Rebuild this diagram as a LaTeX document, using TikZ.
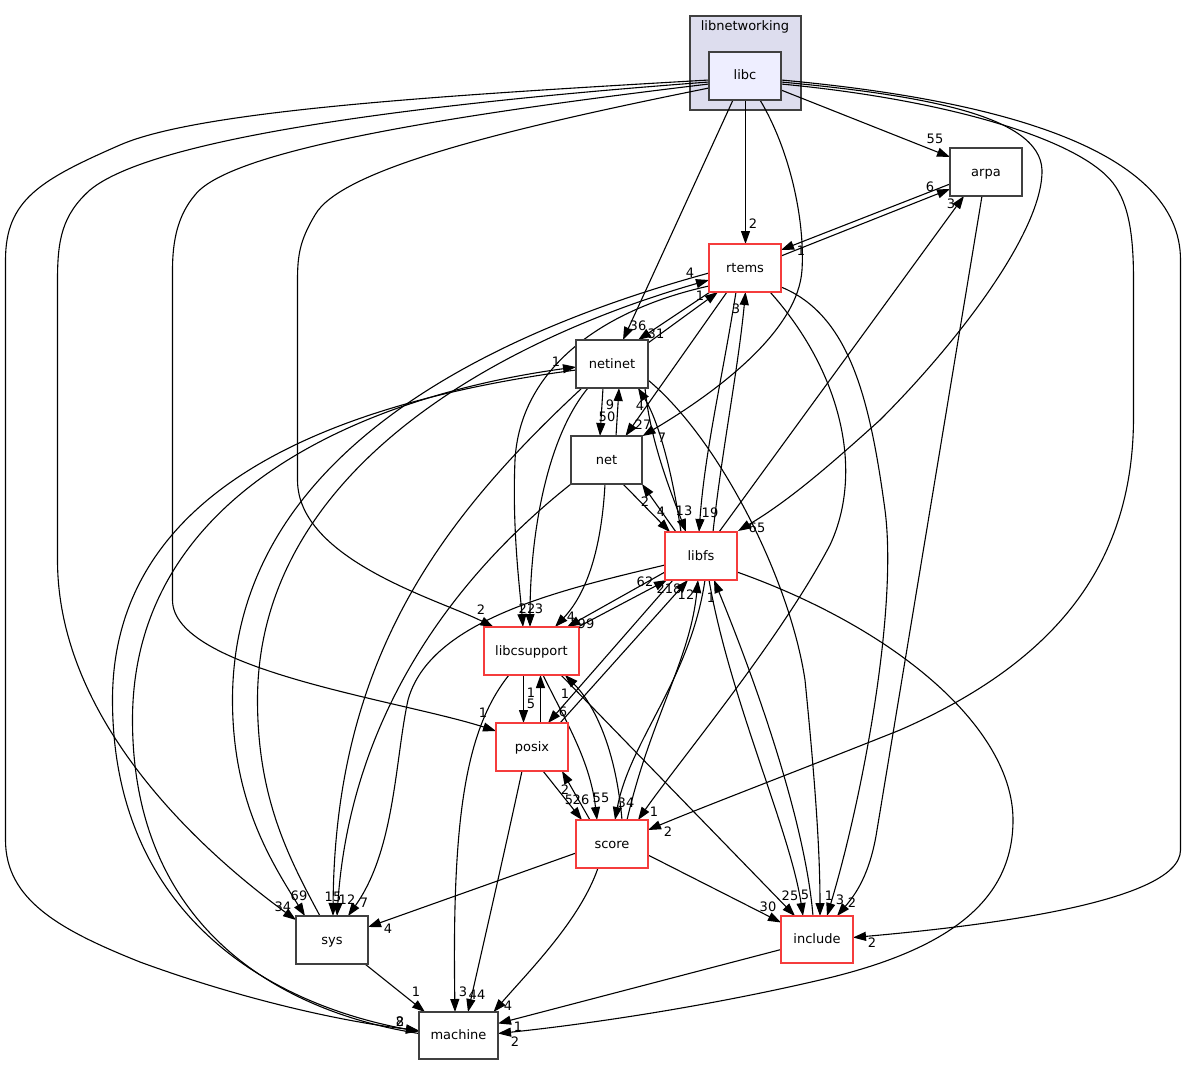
\documentclass[tikz,border=0pt]{standalone}
\usepackage{fontspec}
\newfontfamily\dejavu{DejaVu Sans}
\usetikzlibrary{arrows.meta,calc}
\pgfdeclarelayer{back}
\pgfdeclarelayer{edges}
\pgfsetlayers{back,edges,main}
\definecolor{boxgray}{RGB}{64,64,64}
\definecolor{boxred}{RGB}{245,60,60}
\definecolor{clusterfill}{RGB}{221,221,238}
\definecolor{libcfill}{RGB}{238,238,255}
\newcommand\nodefont{\dejavu\fontsize{13}{15}\selectfont}
\newcommand\edgefont{\dejavu\fontsize{13}{15}\selectfont}
\begin{document}
\begin{tikzpicture}[x=1pt,y=-1pt,
  dirbox/.style={draw=boxgray,line width=1.5pt,fill=white,minimum width=72pt,minimum height=48pt,inner sep=0pt,font=\nodefont,text height=11pt,text depth=3pt},
  redbox/.style={dirbox,draw=boxred},
  dep/.style={line width=1.1pt,-{Triangle[length=13pt,width=9pt]}},
  elab/.style={font=\edgefont,inner sep=0pt}]
\useasboundingbox (0,0) rectangle (1189,1065);

% background and cluster
\begin{pgfonlayer}{back}
\fill[white] (0,0) rectangle (1189,1065);
\node[draw=boxgray,fill=clusterfill,line width=1.5pt,minimum width=111pt,minimum height=94pt,inner sep=0pt] (cluster) at (745.5,63) {};
\node[font=\nodefont,inner sep=0pt,text height=11pt,text depth=3pt] (clusterlabel) at (745,27) {libnetworking};
\end{pgfonlayer}

% nodes
\node[dirbox,fill=libcfill] (libc) at (745,76) {libc};
\node[dirbox] (arpa) at (986,172) {arpa};
\node[redbox] (rtems) at (745,268) {rtems};
\node[dirbox] (netinet) at (612,364) {netinet};
\node[dirbox,minimum width=71pt] (net) at (606.5,460) {net};
\node[redbox] (libfs) at (701,556) {libfs};
\node[redbox,minimum width=95pt] (libcsupport) at (531.5,651) {libcsupport};
\node[redbox] (posix) at (532,747) {posix};
\node[redbox] (score) at (612,844) {score};
\node[dirbox] (sys) at (332,940) {sys};
\node[redbox,minimum height=47pt] (include) at (817,939.5) {include};
\node[dirbox,minimum width=79pt,minimum height=47pt] (machine) at (458.5,1035.5) {machine};

\begin{pgfonlayer}{edges}
% edges from libc
\draw[dep] ($(libc)+(36,14)$) -- ($(arpa)+(-36,-15)$);
\draw[dep] ($(libc)+(0.5,24)$) -- ($(rtems)+(0.5,-24)$);
\draw[dep] ($(libc)+(-12,24)$) -- ($(netinet)+(11,-24)$);
\draw[dep] ($(libc)+(15,24)$) .. controls (790,150) and (805,220) .. (802,270) .. controls (798,330) and (720,390) .. ($(net)+(36,-24)$);
\draw[dep] ($(libc)+(36,6)$) .. controls (920,95) and (1040,115) .. (1042,170) .. controls (1043,230) and (960,340) .. (880,420) .. controls (830,465) and (790,500) .. ($(libfs)+(37,-25)$);
\draw[dep] ($(libc)+(36,8)$) .. controls (950,100) and (1080,140) .. (1113,183) .. controls (1130,205) and (1133.5,240) .. (1133.5,280) -- (1133.5,417) .. controls (1133.5,560) and (1060,660) .. (900,730) .. controls (800,770) and (700,808) .. ($(score)+(36,-14)$);
\draw[dep] ($(libc)+(36,4)$) .. controls (1000,100) and (1180.5,150) .. (1180.5,260) -- (1180.5,850) .. controls (1180.5,905) and (960,928) .. ($(include)+(36,-2)$);
\draw[dep] ($(libc)+(-36,4)$) .. controls (450,95) and (200,110) .. (120,145) .. controls (40,180) and (5.5,200) .. (5.5,260) -- (5.5,840) .. controls (5.5,900) and (60,930) .. (140,962) .. controls (230,995) and (330,1020) .. ($(machine)+(-39.5,-5)$);
\draw[dep] ($(libc)+(-36,6)$) .. controls (400,105) and (150,140) .. (90,190) .. controls (62,215) and (57.5,240) .. (57.5,280) -- (57.5,560) .. controls (57.5,720) and (200,850) .. ($(sys)+(-36,-20)$);
\draw[dep] ($(libc)+(-36,8)$) .. controls (450,115) and (230,150) .. (195,195) .. controls (178,215) and (172.5,240) .. (172.5,270) -- (172.5,600) .. controls (172.5,670) and (400,700) .. ($(posix)+(-36,-16)$);
\draw[dep] ($(libc)+(-36,12)$) .. controls (500,130) and (340,170) .. (315,215) .. controls (300,240) and (297.5,255) .. (297.5,280) -- (297.5,480) .. controls (297.5,560) and (440,600) .. ($(libcsupport)+(-38,-24)$);

% arpa / rtems
\draw[dep] ($(rtems)+(36,-12)$) -- ($(arpa)+(-36,17)$);
\draw[dep] ($(arpa)+(-36,12)$) -- ($(rtems)+(36,-18)$);
\draw[dep] ($(libfs)+(18,-24)$) -- ($(arpa)+(-22,24)$);
\draw[dep] ($(arpa)+(-4,24)$) -- (877,830) .. controls (870,875) and (855,895) .. ($(include)+(20,-23.5)$);
\draw[dep] ($(rtems)+(-35,24)$) -- ($(netinet)+(26,-24)$);
\draw[dep] ($(netinet)+(36,-21)$) -- ($(rtems)+(-27,24)$);
\draw[dep] ($(rtems)+(-18,24)$) -- ($(net)+(19,-24)$);
\draw[dep] ($(rtems)+(-9,24)$) .. controls (722,380) and (705,450) .. ($(libfs)+(-2,-24)$);
\draw[dep] ($(libfs)+(12,-24)$) .. controls (722,450) and (738,370) .. ($(rtems)+(0.5,24)$);
\draw[dep] ($(rtems)+(25,24)$) .. controls (840,370) and (865,470) .. (830,545) .. controls (780,640) and (680,760) .. ($(score)+(26,-24)$);
\draw[dep] ($(rtems)+(36,19)$) .. controls (850,315) and (870,400) .. (885,510) .. controls (898,610) and (862,800) .. ($(include)+(10,-23.5)$);
\draw[dep] ($(rtems)+(-36,5)$) .. controls (500,330) and (232.5,450) .. (232.5,700) .. controls (232.5,800) and (270,860) .. ($(sys)+(-27,-24)$);
\draw[dep] ($(sys)+(-12,-24)$) .. controls (290,860) and (257.5,800) .. (257.5,700) .. controls (257.5,470) and (500,340) .. ($(rtems)+(-36,12)$);
\draw[dep] ($(rtems)+(-36,18)$) .. controls (600,310) and (520,370) .. (515,460) .. controls (512,530) and (520,590) .. ($(libcsupport)+(-8.5,-24)$);

% netinet / net
\draw[dep] ($(netinet)+(36,16)$) .. controls (720,440) and (790,580) .. (805,680) .. controls (815,780) and (820,850) .. ($(include)+(3,-23.5)$);
\draw[dep] ($(netinet)+(-9,24)$) -- ($(net)+(-6.5,-24)$);
\draw[dep] ($(net)+(9.5,-24)$) -- ($(netinet)+(7,24)$);
\draw[dep] ($(libfs)+(-20,-24)$) .. controls (672,470) and (658,420) .. ($(netinet)+(26,24)$);
\draw[dep] ($(netinet)+(33,24)$) .. controls (650,440) and (670,490) .. ($(libfs)+(-15,-24)$);
\draw[dep] ($(net)+(16.5,24)$) -- ($(libfs)+(-31,-24)$);
\draw[dep] ($(libfs)+(-25,-24)$) -- ($(net)+(35.5,24)$);
\draw[dep] ($(netinet)+(-36,6)$) .. controls (350,400) and (112.5,480) .. (112.5,700) .. controls (112.5,900) and (250,1000) .. ($(machine)+(-39.5,-4)$);
\draw[dep] ($(machine)+(-39.5,-2)$) .. controls (270,1010) and (132.5,920) .. (132.5,720) .. controls (132.5,490) and (370,395) .. ($(netinet)+(-36,3)$);
\draw[dep] ($(net)+(-1.5,24)$) .. controls (602,540) and (590,590) .. ($(libcsupport)+(23.5,-24)$);
\draw[dep] ($(net)+(-35.5,24)$) .. controls (450,580) and (350,720) .. ($(sys)+(5,-24)$);
\draw[dep] ($(netinet)+(-30,24)$) .. controls (440,520) and (335,660) .. ($(sys)+(1,-24)$);
\draw[dep] ($(netinet)+(-24,24)$) .. controls (545,440) and (530,540) .. ($(libcsupport)+(-1.5,-24)$);

% libfs / libcsupport / posix / score
\draw[dep] ($(libcsupport)+(-8,24)$) -- ($(posix)+(-8.5,-24)$);
\draw[dep] ($(posix)+(8.5,-24)$) -- ($(libcsupport)+(9,24)$);
\draw[dep] ($(libfs)+(-28,24)$) -- ($(posix)+(16,-24)$);
\draw[dep] ($(posix)+(28,-24)$) -- ($(libfs)+(-13,24)$);
\draw[dep] ($(libfs)+(-36,16)$) -- ($(libcsupport)+(35.5,-24)$);
\draw[dep] ($(libcsupport)+(46.5,-24)$) -- ($(libfs)+(-34,24)$);
\draw[dep] ($(libfs)+(4,24)$) .. controls (690,680) and (630,740) .. ($(score)+(3,-24)$);
\draw[dep] ($(score)+(15,-24)$) .. controls (650,720) and (690,660) .. ($(libfs)+(-3,24)$);
\draw[dep] ($(libfs)+(8,24)$) .. controls (730,700) and (790,830) .. ($(include)+(-14,-23.5)$);
\draw[dep] ($(include)+(-4,-23.5)$) .. controls (805,820) and (755,680) .. ($(libfs)+(13,24)$);
\draw[dep] ($(libfs)+(-36,9)$) .. controls (560,590) and (430,620) .. (408,700) .. controls (395,760) and (395,850) .. ($(sys)+(16,-24)$);
\draw[dep] ($(libfs)+(36,16)$) .. controls (900,630) and (1013,730) .. (1013,820) .. controls (1013,900) and (950,950) .. (820,980) .. controls (700,1008) and (580,1025) .. ($(machine)+(39.5,-2)$);
\draw[dep] ($(include)+(-36,10)$) -- ($(machine)+(39.5,-12)$);
\draw[dep] ($(score)+(36,11)$) -- ($(include)+(-36,-17)$);
\draw[dep] ($(score)+(-36,9)$) -- ($(sys)+(36,-13)$);
\draw[dep] ($(score)+(-14,24)$) .. controls (580,920) and (530,970) .. ($(machine)+(35,-23.5)$);
\draw[dep] ($(posix)+(-10,24)$) .. controls (505,850) and (482,950) .. ($(machine)+(9.5,-23.5)$);
\draw[dep] ($(libcsupport)+(-22.5,24)$) .. controls (465,730) and (452,820) .. ($(machine)+(-3.5,-23.5)$);
\draw[dep] ($(sys)+(33,24)$) -- ($(machine)+(-33.5,-23.5)$);
\draw[dep] ($(posix)+(11,24)$) -- ($(score)+(-30,-24)$);
\draw[dep] ($(score)+(-22,-24)$) -- ($(posix)+(30,24)$);
\draw[dep] ($(libcsupport)+(11.5,24)$) .. controls (565,720) and (590,760) .. ($(score)+(-15,-24)$);
\draw[dep] ($(score)+(10,-24)$) .. controls (615,740) and (590,700) .. ($(libcsupport)+(33.5,24)$);
\draw[dep] ($(libcsupport)+(29.5,24)$) -- ($(include)+(-22,-23.5)$);
\end{pgfonlayer}

% edge labels
\node[elab] at (935,139) {55};
\node[elab] at (753,224) {2};
\node[elab] at (638,326) {36};
\node[elab] at (662,438) {7};
\node[elab] at (757,528) {65};
\node[elab] at (668,832) {2};
\node[elab] at (872,943) {2};
\node[elab] at (400,1022) {2};
\node[elab] at (400,1022) {8};
\node[elab] at (283,907) {34};
\node[elab] at (483,713) {1};
\node[elab] at (481,610) {2};
\node[elab] at (930,187) {6};
\node[elab] at (801,251) {1};
\node[elab] at (951,204) {3};
\node[elab] at (852,903) {2};
\node[elab] at (656,334) {31};
\node[elab] at (700,296) {1};
\node[elab] at (643,425) {27};
\node[elab] at (710,513) {19};
\node[elab] at (736,309) {3};
\node[elab] at (654,812) {1};
\node[elab] at (840,900) {3};
\node[elab] at (829,896) {1};
\node[elab] at (607,417) {50};
\node[elab] at (610,405) {9};
\node[elab] at (640,406) {4};
\node[elab] at (684,511) {13};
\node[elab] at (661,512) {4};
\node[elab] at (645,502) {2};
\node[elab] at (299,896) {69};
\node[elab] at (690,273) {4};
\node[elab] at (556,362) {1};
\node[elab] at (531,704) {5};
\node[elab] at (531,693) {1};
\node[elab] at (563,712) {6};
\node[elab] at (669,589) {218};
\node[elab] at (586,624) {99};
\node[elab] at (645,582) {62};
\node[elab] at (626,803) {34};
\node[elab] at (686,595) {12};
\node[elab] at (805,895) {5};
\node[elab] at (711,598) {1};
\node[elab] at (364,903) {7};
\node[elab] at (515,1042) {2};
\node[elab] at (518,1027) {1};
\node[elab] at (768,907) {30};
\node[elab] at (388,929) {4};
\node[elab] at (508,1006) {4};
\node[elab] at (477,995) {44};
\node[elab] at (463,992) {3};
\node[elab] at (416,992) {1};
\node[elab] at (569,800) {5};
\node[elab] at (565,790) {2};
\node[elab] at (581,800) {26};
\node[elab] at (601,798) {55};
\node[elab] at (565,694) {1};
\node[elab] at (790,896) {25};
\node[elab] at (571,617) {4};
\node[elab] at (333,897) {15};
\node[elab] at (347,900) {12};
\node[elab] at (527,609) {22};
\node[elab] at (539,609) {3};
\end{tikzpicture}
\end{document}
